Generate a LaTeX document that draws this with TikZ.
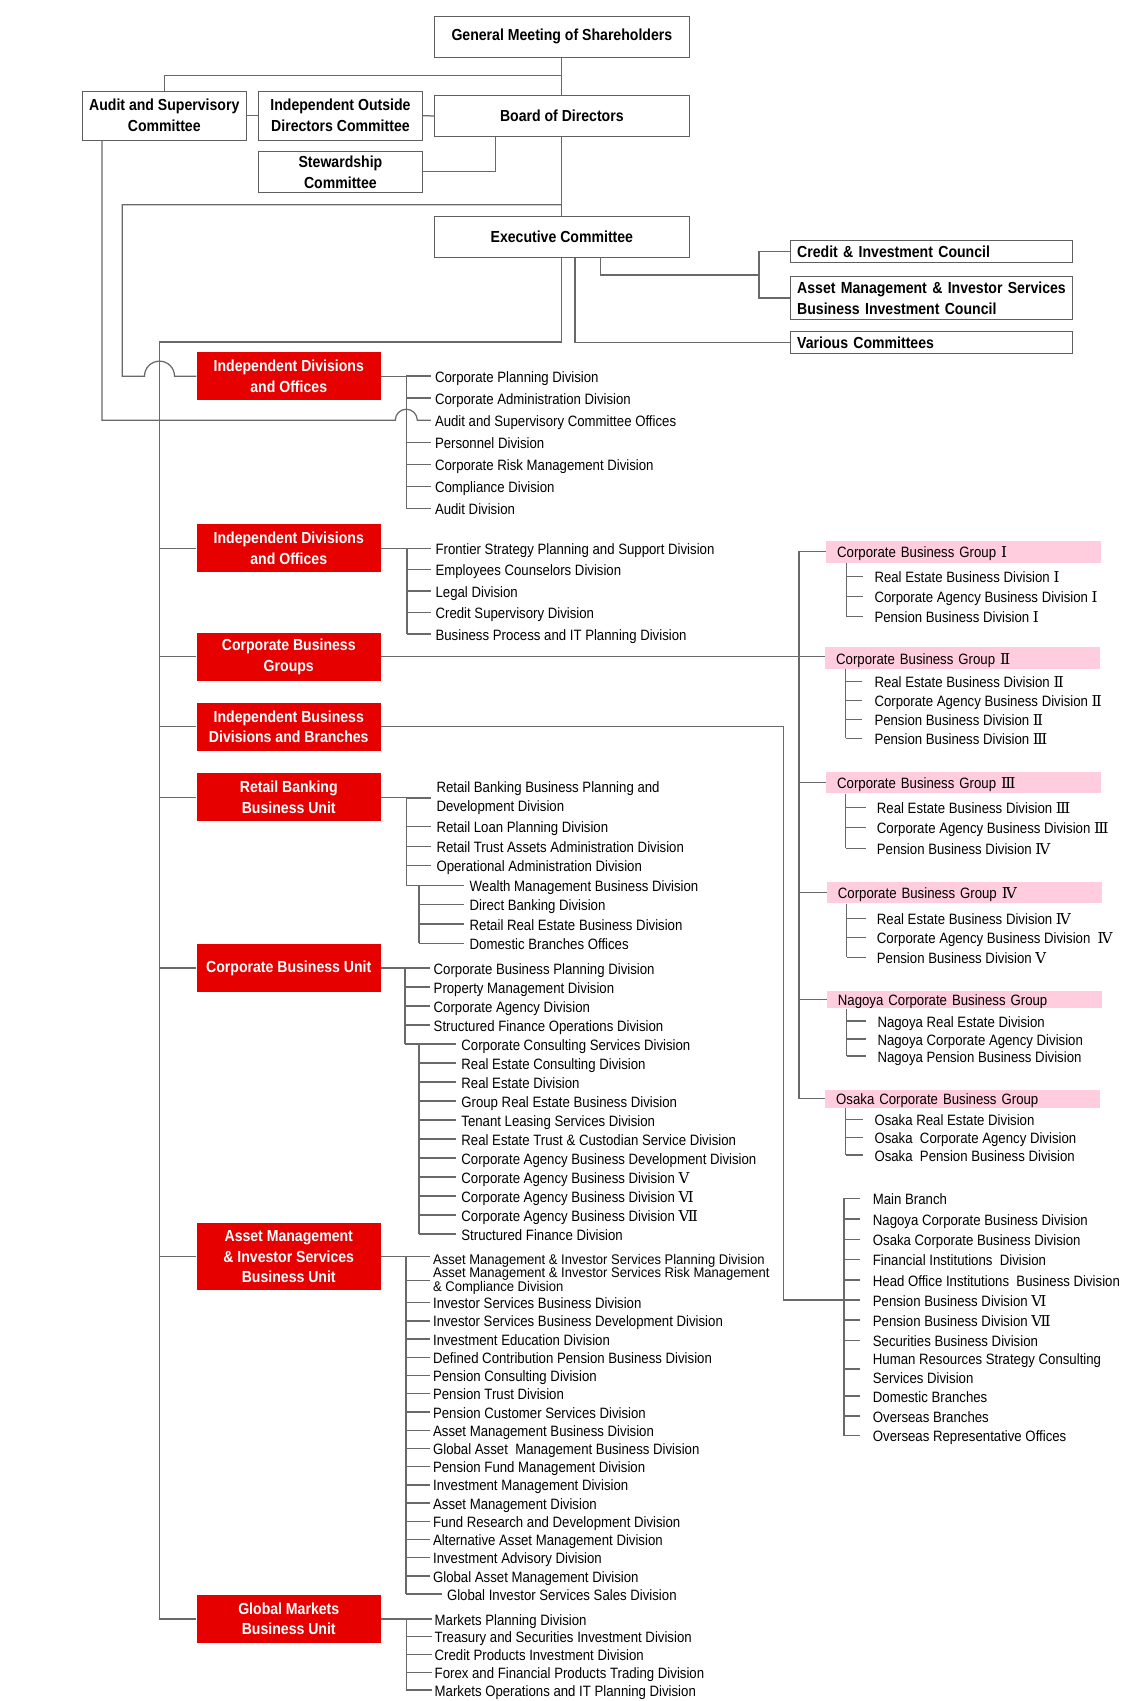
\documentclass[tikz,border=0pt]{standalone}
\usepackage{fontspec}
\setmainfont{Liberation Sans}[FakeStretch=0.88]
\newfontfamily\amfont{Liberation Sans}[FakeStretch=0.93]
\newfontfamily\rnfont{DejaVu Serif}
\newcommand\RN[1]{{\rnfont #1}}
\definecolor{redbox}{RGB}{230,0,0}
\definecolor{pinkbox}{RGB}{255,205,221}
\definecolor{linec}{RGB}{105,105,105}
\definecolor{borderc}{RGB}{95,95,95}
\def\itmgap{4pt}
\tikzset{
  ln/.style={draw=linec, line width=1.25pt},
  hdr/.style={draw=borderc, line width=1pt, fill=white, font=\fontsize{16}{21}\selectfont\bfseries, align=center, inner sep=0pt},
  cnc/.style={hdr, anchor=west, align=left, text width=268.3pt, inner xsep=6.7pt, inner ysep=0pt},
  redb/.style={fill=redbox, text=white, font=\fontsize{16}{20.5}\selectfont\bfseries, align=center, inner sep=0pt, minimum width=184.5pt},
  pinkb/.style={fill=pinkbox, anchor=west, font=\fontsize{15}{18}\selectfont, inner xsep=11pt, inner ysep=0pt, text width=253pt, align=left, text height=13pt, text depth=1pt},
  itm/.style={anchor=west, font=\fontsize{15}{19}\selectfont, inner xsep=\itmgap, inner ysep=0pt, text height=13pt, text depth=1pt},
  itmb/.style={anchor=west, font=\fontsize{15}{19}\selectfont, inner xsep=\itmgap, inner ysep=0pt, align=left},
}
\newcommand\itm[5][itm]{\node[#1] (#2) at (#4) {#5};\draw[ln] (#3 |- #2.west) -- (#2.west);}
\begin{document}
\begin{tikzpicture}[x=1pt,y=-1pt]
\fill[white] (0,0) rectangle (1134,1701);
\useasboundingbox (0,0) rectangle (1134,1701);

% ---------- top boxes
\node[hdr, minimum width=254.7pt, minimum height=41.3pt] (gm) at (561.85,36.65) {General Meeting of Shareholders};
\node[hdr, minimum width=254.7pt, minimum height=40.6pt] (board) at (561.85,116) {Board of Directors};
\node[hdr, minimum width=254.7pt, minimum height=40.7pt] (exec) at (561.85,236.65) {Executive Committee};
\node[hdr, minimum width=164.1pt, minimum height=48.7pt] (audit) at (164.25,115.65) {Audit and Supervisory\\Committee};
\node[hdr, minimum width=163.7pt, minimum height=48.7pt] (indep) at (340.45,115.65) {Independent Outside\\Directors Committee};
\node[hdr, minimum width=163.7pt, minimum height=41pt] (stew) at (340.45,171.8) {Stewardship\\Committee};
\node[cnc, minimum height=22pt] (credit) at (790,251.7) {\mbox{Credit \& Investment Council}};
\node[cnc, minimum height=42.6pt] (amisc) at (790,298) {\mbox{Asset Management \& Investor Services}\\\mbox{Business Investment Council}};
\node[cnc, minimum height=21.6pt] (various) at (790,342.5) {\mbox{Various Committees}};

% ---------- red boxes
\node[redb, minimum height=47.7pt] (idv1) at (288.75,376.15) {Independent Divisions\\and Offices};
\node[redb, minimum height=47.7pt] (idv2) at (288.75,548.2) {Independent Divisions\\and Offices};
\node[redb, minimum height=47.7pt] (cbg) at (288.75,656.85) {Corporate Business\\Groups};
\node[redb, minimum height=47.7pt] (ibd) at (288.75,726.85) {Independent Business\\Divisions and Branches};
\node[redb, minimum height=48pt] (rbu) at (288.75,797.3) {Retail Banking\\Business Unit};
\node[redb, minimum height=48pt] (cbu) at (288.75,968) {Corporate Business Unit};
\node[redb, minimum height=66.7pt] (amu) at (288.75,1256.65) {Asset Management\\\& Investor Services\\Business Unit};
\node[redb, minimum height=47.7pt] (gmk) at (288.75,1619) {Global Markets\\Business Unit};

% ---------- pink boxes
\node[pinkb, minimum height=21.7pt] (g1) at (826,551.8) {Corporate Business Group \RN{Ⅰ}};
\node[pinkb, minimum height=21.4pt] (g2) at (825,658) {Corporate Business Group \RN{Ⅱ}};
\node[pinkb, minimum height=21pt] (g3) at (826,782.8) {Corporate Business Group \RN{Ⅲ}};
\node[pinkb, minimum height=21pt] (g4) at (826.7,892.8) {Corporate Business Group \RN{Ⅳ}};
\node[pinkb, minimum height=17.3pt] (gn) at (826.7,999.7) {Nagoya Corporate Business Group};
\node[pinkb, minimum height=17.7pt] (go) at (825,1098.8) {Osaka Corporate Business Group};

% ---------- top connectors
\coordinate (gmy) at (0,75.3);
\draw[ln] (gm.south) -- (board.north);
\draw[ln] (gm.south |- gmy) -- (audit.north |- gmy) -- (audit.north);
\draw[ln] (audit.east) -- (indep.west);
\draw[ln] (indep.east) -- (board.west);
\coordinate (sj) at (495.3,0);
\draw[ln] (stew.east) -- (stew.east -| sj) -- (board.south -| sj);
\draw[ln] (board.south) -- (exec.north);
\coordinate (bdL) at (122.2,204.7);
\coordinate (hA) at (144.5,0);
\draw[ln] (exec.north |- bdL) -- (bdL) -- (bdL |- idv1.west) -- (hA |- idv1.west) arc[start angle=180,end angle=0,radius=15pt] -- (idv1.west);
\coordinate (trT) at (159.5,342);
\draw[ln] (exec.south) -- (exec.south |- trT) -- (trT) -- (trT |- gmk.west) -- (gmk.west);
\foreach \b in {idv2,cbg,ibd,rbu,cbu,amu} \draw[ln] (trT |- \b.west) -- (\b.west);
\coordinate (ev) at (575,0);
\draw[ln] (exec.south -| ev) -- (ev |- various.west) -- (various.west);
\coordinate (ec) at (600.7,275);
\coordinate (cj) at (759,0);
\draw[ln] (exec.south -| ec) -- (ec) -- (ec -| cj);
\draw[ln] (credit.west) -- (credit.west -| cj) -- (amisc.west -| cj) -- (amisc.west);

% ---------- list 1
\coordinate (v1) at (406.3,0);
\def\itmgap{4pt}
\itm{a1}{v1}{430.8,376}{Corporate Planning Division}
\itm{a2}{v1}{430.8,398.1}{Corporate Administration Division}
\node[itm] (a3) at (430.8,420.2) {Audit and Supervisory Committee Offices};
\itm{a4}{v1}{430.8,442.3}{Personnel Division}
\itm{a5}{v1}{430.8,464.4}{Corporate Risk Management Division}
\itm{a6}{v1}{430.8,486.5}{Compliance Division}
\itm{a7}{v1}{430.8,508.6}{Audit Division}
\draw[ln] (idv1.east) -- (idv1.east -| v1) -- (v1 |- a7.west);
\coordinate (aux) at (101.9,0);
\coordinate (hB) at (395.3,0);
\draw[ln] (audit.south -| aux) -- (aux |- a3.west) -- (hB |- a3.west) arc[start angle=180,end angle=0,radius=11pt] -- (a3.west);

% ---------- list 2
\coordinate (v2) at (407.1,0);
\def\itmgap{4.4pt}
\itm{b1}{v2}{431,548.2}{Frontier Strategy Planning and Support Division}
\itm{b2}{v2}{431,569.65}{Employees Counselors Division}
\itm{b3}{v2}{431,591.1}{Legal Division}
\itm{b4}{v2}{431,612.55}{Credit Supervisory Division}
\itm{b5}{v2}{431,634}{Business Process and IT Planning Division}
\draw[ln] (idv2.east) -- (idv2.east -| v2) -- (v2 |- b5.west);

% ---------- retail
\coordinate (vR) at (406.4,0);
\coordinate (vRs) at (419,0);
\def\itmgap{5pt}
\itm[itmb]{r1}{vR}{431.3,798}{Retail Banking Business Planning and\\Development Division}
\itm{r2}{vR}{431.3,826.7}{Retail Loan Planning Division}
\itm{r3}{vR}{431.3,846.2}{Retail Trust Assets Administration Division}
\itm{r4}{vR}{431.3,865.8}{Operational Administration Division}
\def\itmgap{5.7pt}
\itm{r5}{vR}{463.8,885.3}{Wealth Management Business Division}
\itm{r6}{vRs}{463.8,904.6}{Direct Banking Division}
\itm{r7}{vRs}{463.8,924}{Retail Real Estate Business Division}
\itm{r8}{vRs}{463.8,943.3}{Domestic Branches Offices}
\draw[ln] (rbu.east) -- (rbu.east -| vR) -- (vR |- r5.west);
\draw[ln] (vRs |- r5.west) -- (vRs |- r8.west);

% ---------- corporate
\coordinate (vC) at (405,0);
\coordinate (vCs) at (418.9,0);
\def\itmgap{3.9pt}
\itm{c1}{vC}{429.6,968}{Corporate Business Planning Division}
\itm{c2}{vC}{429.6,987}{Property Management Division}
\itm{c3}{vC}{429.6,1006}{Corporate Agency Division}
\itm{c4}{vC}{429.6,1025}{Structured Finance Operations Division}
\def\itmgap{4.8pt}
\itm{c5}{vC}{456.4,1044}{Corporate Consulting Services Division}
\itm{c6}{vCs}{456.4,1063}{Real Estate Consulting Division}
\itm{c7}{vCs}{456.4,1082}{Real Estate Division}
\itm{c8}{vCs}{456.4,1101}{Group Real Estate Business Division}
\itm{c9}{vCs}{456.4,1120}{Tenant Leasing Services Division}
\itm{c10}{vCs}{456.4,1139}{Real Estate Trust \& Custodian Service Division}
\itm{c11}{vCs}{456.4,1158}{Corporate Agency Business Development Division}
\itm{c12}{vCs}{456.4,1177}{Corporate Agency Business Division \RN{Ⅴ}}
\itm{c13}{vCs}{456.4,1196}{Corporate Agency Business Division \RN{Ⅵ}}
\itm{c14}{vCs}{456.4,1215}{Corporate Agency Business Division \RN{Ⅶ}}
\itm{c15}{vCs}{456.4,1234}{Structured Finance Division}
\draw[ln] (cbu.east) -- (cbu.east -| vC) -- (vC |- c5.west);
\draw[ln] (vCs |- c5.west) -- (vCs |- c15.west);

% ---------- asset management
\coordinate (vA) at (406,0);
\def\itmgap{3.3pt}
\itm[itm, font=\amfont\fontsize{14}{11.5}\selectfont, text height=15pt, text depth=0pt]{m1}{vA}{429.6,1256.7}{Asset Management \& Investor Services Planning Division}
\itm[itmb, font=\amfont\fontsize{14}{11.5}\selectfont]{m2}{vA}{429.6,1280.7}{Asset Management \& Investor Services Risk Management\\\& Compliance Division}
\itm{m3}{vA}{429.6,1302.7}{Investor Services Business Division}
\itm{m4}{vA}{429.6,1320.9}{Investor Services Business Development Division}
\itm{m5}{vA}{429.6,1339.1}{Investment Education Division}
\itm{m6}{vA}{429.6,1357.4}{Defined Contribution Pension Business Division}
\itm{m7}{vA}{429.6,1375.6}{Pension Consulting Division}
\itm{m8}{vA}{429.6,1393.8}{Pension Trust Division}
\itm{m9}{vA}{429.6,1412}{Pension Customer Services Division}
\itm{m10}{vA}{429.6,1430.2}{Asset Management Business Division}
\itm{m11}{vA}{429.6,1448.5}{Global Asset\ \ Management Business Division}
\itm{m12}{vA}{429.6,1466.7}{Pension Fund Management Division}
\itm{m13}{vA}{429.6,1484.9}{Investment Management Division}
\itm{m14}{vA}{429.6,1503.1}{Asset Management Division}
\itm{m15}{vA}{429.6,1521.3}{Fund Research and Development Division}
\itm{m16}{vA}{429.6,1539.6}{Alternative Asset Management Division}
\itm{m17}{vA}{429.6,1557.8}{Investment Advisory Division}
\itm{m18}{vA}{429.6,1576}{Global Asset Management Division}
\def\itmgap{4.9pt}
\itm{m19}{vA}{441.9,1594}{Global Investor Services Sales Division}
\draw[ln] (amu.east) -- (amu.east -| vA) -- (vA |- m19.west);

% ---------- global markets
\coordinate (vG) at (406.3,0);
\def\itmgap{2.8pt}
\itm{n1}{vG}{431.7,1619}{Markets Planning Division}
\itm{n2}{vG}{431.7,1636.75}{Treasury and Securities Investment Division}
\itm{n3}{vG}{431.7,1654.5}{Credit Products Investment Division}
\itm{n4}{vG}{431.7,1672.25}{Forex and Financial Products Trading Division}
\itm{n5}{vG}{431.7,1690}{Markets Operations and IT Planning Division}
\draw[ln] (gmk.east) -- (gmk.east -| vG) -- (vG |- n5.west);

% ---------- corporate business groups
\coordinate (mv) at (799,0);
\draw[ln] (g1.west) -- (g1.west -| mv) -- (go.west -| mv) -- (go.west);
\foreach \g in {g3,g4,gn} \draw[ln] (\g.west -| mv) -- (\g.west);
\draw[ln] (cbg.east) -- (cbg.east -| g2.west);

\def\itmgap{11pt}
\coordinate (s1) at (846.7,0);
\itm{g1a}{s1}{863.3,576.7}{Real Estate Business Division \RN{Ⅰ}}
\itm{g1b}{s1}{863.3,596.7}{Corporate Agency Business Division \RN{Ⅰ}}
\itm{g1c}{s1}{863.3,616.7}{Pension Business Division \RN{Ⅰ}}
\draw[ln] (g1.south -| s1) -- (s1 |- g1c.west);

\def\itmgap{12pt}
\coordinate (s2) at (845.7,0);
\itm{g2a}{s2}{862.3,681.7}{Real Estate Business Division \RN{Ⅱ}}
\itm{g2b}{s2}{862.3,700.7}{Corporate Agency Business Division \RN{Ⅱ}}
\itm{g2c}{s2}{862.3,719.3}{Pension Business Division \RN{Ⅱ}}
\itm{g2d}{s2}{862.3,738.3}{Pension Business Division \RN{Ⅲ}}
\draw[ln] (g2.south -| s2) -- (s2 |- g2d.west);

\def\itmgap{10.7pt}
\coordinate (s3) at (845.7,0);
\itm{g3a}{s3}{866,807.7}{Real Estate Business Division \RN{Ⅲ}}
\itm{g3b}{s3}{866,827.7}{Corporate Agency Business Division \RN{Ⅲ}}
\itm{g3c}{s3}{866,848.3}{Pension Business Division \RN{Ⅳ}}
\draw[ln] (g3.south -| s3) -- (s3 |- g3c.west);

\coordinate (s4) at (846.7,0);
\itm{g4a}{s4}{866,918.3}{Real Estate Business Division \RN{Ⅳ}}
\itm{g4b}{s4}{866,937.7}{Corporate Agency Business Division \ \RN{Ⅳ}}
\itm{g4c}{s4}{866,957.3}{Pension Business Division \RN{Ⅴ}}
\draw[ln] (g4.south -| s4) -- (s4 |- g4c.west);

\def\itmgap{11.3pt}
\coordinate (s5) at (846.7,0);
\itm{gna}{s5}{866,1021}{Nagoya Real Estate Division}
\itm{gnb}{s5}{866,1039}{Nagoya Corporate Agency Division}
\itm{gnc}{s5}{866,1056}{Nagoya Pension Business Division}
\draw[ln] (gn.south -| s5) -- (s5 |- gnc.west);

\def\itmgap{11pt}
\coordinate (s6) at (845.7,0);
\itm{goa}{s6}{863.3,1119.3}{Osaka Real Estate Division}
\itm{gob}{s6}{863.3,1137.3}{Osaka\ \ Corporate Agency Division}
\itm{goc}{s6}{863.3,1155}{Osaka\ \ Pension Business Division}
\draw[ln] (go.south -| s6) -- (s6 |- goc.west);

% ---------- independent business divisions and branches
\coordinate (ibx) at (783.3,0);
\coordinate (ibv) at (844,0);
\def\itmgap{12.7pt}
\itm{p1}{ibv}{860,1198.3}{Main Branch}
\itm{p2}{ibv}{860,1219}{Nagoya Corporate Business Division}
\itm{p3}{ibv}{860,1239.3}{Osaka Corporate Business Division}
\itm{p4}{ibv}{860,1259.3}{Financial Institutions\ \ Division}
\itm{p5}{ibv}{860,1280}{Head Office Institutions\ \ Business Division}
\itm{p6}{ibv}{860,1300}{Pension Business Division \RN{Ⅵ}}
\itm{p7}{ibv}{860,1320}{Pension Business Division \RN{Ⅶ}}
\itm{p8}{ibv}{860,1340.7}{Securities Business Division}
\itm[itmb]{p9}{ibv}{860,1369}{Human Resources Strategy Consulting\\Services Division}
\itm{p10}{ibv}{860,1396}{Domestic Branches}
\itm{p11}{ibv}{860,1416}{Overseas Branches}
\itm{p12}{ibv}{860,1435.7}{Overseas Representative Offices}
\draw[ln] (ibd.east) -- (ibd.east -| ibx) -- (ibx |- p6.west) -- (p6.west -| ibv);
\draw[ln] (ibv |- p1.west) -- (ibv |- p12.west);
\end{tikzpicture}
\end{document}
